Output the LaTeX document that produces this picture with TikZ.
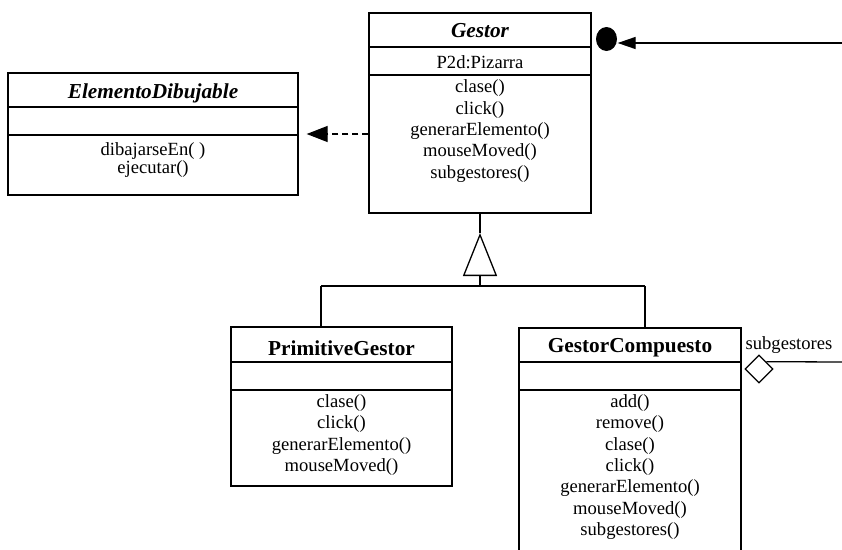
\documentclass[tikz,border=0pt]{standalone}
\usepackage{fontspec}
\setmainfont{Liberation Serif}
\usetikzlibrary{arrows.meta,shapes.geometric,positioning}

\begin{document}
\begin{tikzpicture}[x=1pt,y=-1pt,line width=1.3pt,
                    font=\fontsize{18.6}{21.3}\selectfont]
  \tikzstyle{classbox}=[draw,inner sep=0pt,minimum width=222pt]
  \tikzstyle{classname}=[inner sep=0pt,font=\fontsize{21.3}{24}\selectfont\bfseries]
  \tikzstyle{members}=[inner sep=0pt,align=center]
  \tikzstyle{divider}=[line width=1.6pt]

  \useasboundingbox (0,0) rectangle (842,549);

  \node[classbox,minimum height=200pt] (gestor) at (480,113) {};
  \node[classname] (gestorName) at (480,31) {\itshape Gestor};
  \node[members] (gestorAttr) at (480,62) {P2d:Pizarra};
  \node[members] (gestorOps) at (480,131) {clase()\\click()\\generarElemento()\\mouseMoved()\\subgestores()};
  \draw[divider] (369,47) -- (591,47);
  \draw[divider] (369,75) -- (591,75);

  \node[classbox,minimum width=290pt,minimum height=122pt] (elemento) at (153,134) {};
  \node[classname] (elementoName) at (153,93) {\itshape ElementoDibujable};
  \node[members,font=\fontsize{18.6}{18.5}\selectfont] (elementoOps) at (153,160) {dibajarseEn( )\\ejecutar()};
  \draw[divider] (8,107) -- (298,107);
  \draw[divider] (8,135) -- (298,135);

  \node[classbox,minimum width=221pt,minimum height=159pt] (primitive) at (341.5,406.5) {};
  \node[classname] (primitiveName) at (341.5,348) {PrimitiveGestor};
  \node[members] (primitiveOps) at (341.5,435) {clase()\\click()\\generarElemento()\\mouseMoved()};
  \draw[divider] (231,362) -- (452,362);
  \draw[divider] (231,390) -- (452,390);

  \node[classbox,minimum height=272pt] (compuesto) at (630,464) {};
  \node[classname] (compuestoName) at (630,348) {GestorCompuesto};
  \node[members] (compuestoOps) at (630,467) {add()\\remove()\\clase()\\click()\\generarElemento()\\mouseMoved()\\subgestores()};
  \draw[divider] (519,362) -- (741,362);
  \draw[divider] (519,390) -- (741,390);

  \coordinate (apex) at (480,233);
  \coordinate (bar) at (480,286);
  \coordinate (barLeft) at (321,286);
  \coordinate (barRight) at (645,286);
  \draw (gestor.south) -- (apex);
  \draw[-{Triangle[open,length=43pt,width=34pt]}] (bar) -- (apex);
  \draw (barLeft) -- (barRight);
  \draw (barLeft) -- (barLeft |- primitive.north);
  \draw (barRight) -- (barRight |- compuesto.north);

  \draw[dash pattern=on 6pt off 4pt,-{Triangle[length=21pt,width=16pt]},shorten >=8pt]
    ([yshift=-21pt]gestor.west) -- (elemento.east);

  \node[ellipse,fill,inner sep=0pt,minimum width=21pt,minimum height=24pt] (ball) at (606.5,39) {};
  \coordinate (ballEnd) at (842,43);
  \draw[-{Triangle[length=18pt,width=12pt]}] (ballEnd) -- (ball.east |- ballEnd);

  \node[diamond,draw,inner sep=0pt,minimum width=28pt,minimum height=28pt] (agg) at (759,369) {};
  \coordinate (aggEnd) at (842,362);
  \draw (agg.north east) -- (aggEnd);
  \node[inner sep=0pt] (aggLabel) at (789,345) {subgestores};
\end{tikzpicture}
\end{document}
